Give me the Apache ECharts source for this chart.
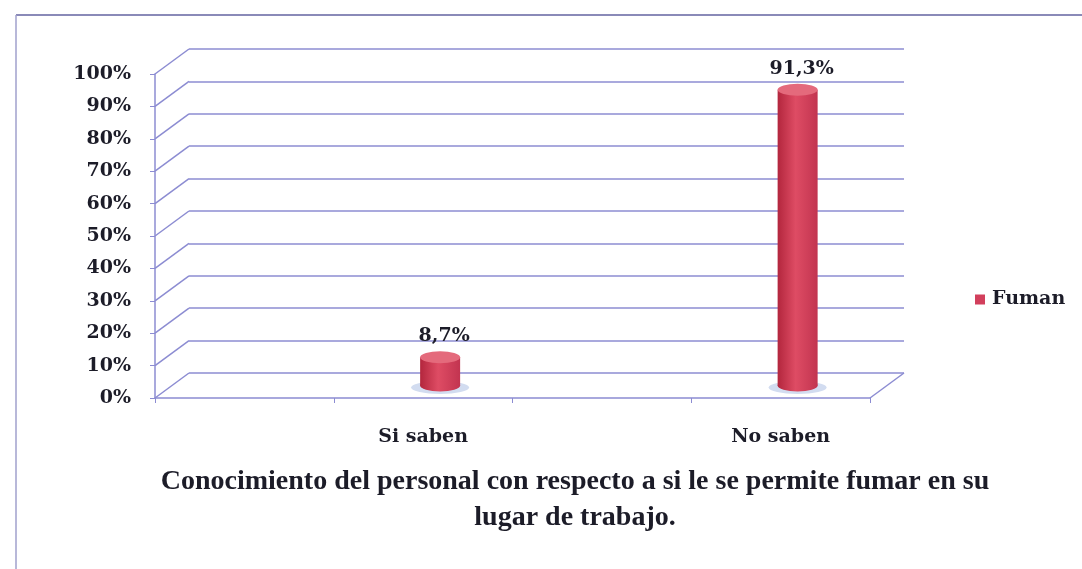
<!DOCTYPE html>
<html>
<head>
    <meta charset="UTF-8">
    <title>Fuman</title>
    <script src="https://cdn.jsdelivr.net/npm/echarts@6/dist/echarts.min.js"></script>
    <style>
        html, body { margin: 0; padding: 0; background: #ffffff; }
        #main { width: 1082px; height: 569px; }
    </style>
</head>
<body>
<div id="main"></div>
<script>
    // datos del grafico
    var categorias = ['Si saben', 'No saben'];
    var valores = [8.7, 91.3];
    var etiquetas = ['8,7%', '91,3%'];
    var serieNombre = 'Fuman';
    var marcasY = [0, 10, 20, 30, 40, 50, 60, 70, 80, 90, 100];
    var titulo = 'Conocimiento del personal con respecto a si le se permite fumar en su\nlugar de trabajo.';

    // estilo / efecto 3D
    var DX = 34, DY = 25;          // desplazamiento de la pared del fondo
    var colorLinea = '#8c8cd2';
    var colorTexto = '#1c1c28';
    var fuente = 'DejaVu Serif';

    // cada categoria ocupa dos huecos del eje, como en el original de Excel
    var huecos = [];
    var datosBarras = [];
    categorias.forEach(function (c, i) {
        huecos.push('');
        huecos.push(c);
        datosBarras.push([huecos.length - 1, valores[i], i]);
    });

    var degradado = new echarts.graphic.LinearGradient(0, 0, 1, 0, [
        {offset: 0, color: '#b3263d'},
        {offset: 0.45, color: '#de4c64'},
        {offset: 1, color: '#c23450'}
    ]);

    // lineas diagonales que unen el eje frontal con la pared del fondo
    function dibujarUniones(params, api) {
        var v = api.value(1);
        var y = api.coord([0, v])[1];
        var x0 = params.coordSys.x;
        var estilo = {stroke: colorLinea, lineWidth: 1.5};
        var hijos = [{type: 'line', shape: {x1: x0 - DX, y1: y + DY, x2: x0, y2: y}, style: estilo}];
        if (v === 0) {
            var x1 = x0 + params.coordSys.width;
            hijos.push({type: 'line', shape: {x1: x1 - DX, y1: y + DY, x2: x1, y2: y}, style: estilo});
        }
        return {type: 'group', children: hijos};
    }

    // cilindros
    function dibujarCilindro(params, api) {
        var base = api.coord([api.value(0), 0]);
        var cima = api.coord([api.value(0), api.value(1)]);
        var cx = base[0] + DX / 2;
        var yb = base[1] - DY / 2;
        var yt = cima[1] - DY / 2;
        var rx = 20, ry = 6;
        return {
            type: 'group',
            children: [
                {type: 'circle', x: cx, y: yb + 2, scaleY: 0.22, shape: {cx: 0, cy: 0, r: rx + 9}, style: {fill: '#d2dcf0'}},
                {type: 'rect', shape: {x: cx - rx, y: yt, width: 2 * rx, height: yb - yt}, style: {fill: degradado}},
                {type: 'circle', x: cx, y: yb, scaleY: ry / rx, shape: {cx: 0, cy: 0, r: rx}, style: {fill: degradado}},
                {type: 'circle', x: cx, y: yt, scaleY: ry / rx, shape: {cx: 0, cy: 0, r: rx}, style: {fill: '#e46a7c'}},
                {
                    type: 'text', x: cx + 4, y: yt - 21,
                    style: {
                        text: etiquetas[api.value(2)], textAlign: 'center', textVerticalAlign: 'middle',
                        font: 'bold 19px "' + fuente + '"', fill: colorTexto
                    }
                }
            ]
        };
    }

    var myChart = echarts.init(document.getElementById('main'));

    var option = {
        animation: false,
        backgroundColor: '#ffffff',
        graphic: [
            {type: 'line', shape: {x1: 16, y1: 15, x2: 1082, y2: 15}, style: {stroke: '#8a8ab8', lineWidth: 2}},
            {type: 'line', shape: {x1: 16, y1: 15, x2: 16, y2: 569}, style: {stroke: '#a0a0cc', lineWidth: 1.5}},
            {
                type: 'text', x: 575, y: 464,
                style: {
                    text: titulo, textAlign: 'center', textVerticalAlign: 'top', lineHeight: 36,
                    font: 'bold 28px "Liberation Serif"', fill: colorTexto
                }
            }
        ],
        legend: {
            data: [{name: serieNombre, icon: 'rect'}],
            left: 970, top: 285,
            itemWidth: 10, itemHeight: 10,
            selectedMode: false,
            textStyle: {fontFamily: fuente, fontWeight: 'bold', fontSize: 19, color: colorTexto, padding: [0, 0, 0, 2]}
        },
        grid: [
            {left: 155, top: 74, right: 212, bottom: 171},   // plano frontal
            {left: 189, top: 49, right: 178, bottom: 196}    // pared del fondo
        ],
        xAxis: [
            {
                type: 'category', gridIndex: 0, data: huecos, boundaryGap: true,
                axisLine: {lineStyle: {color: colorLinea, width: 1.5}},
                axisTick: {show: true, interval: 0, length: 5, lineStyle: {color: colorLinea}},
                axisLabel: {interval: 0, margin: 30, fontFamily: fuente, fontWeight: 'bold', fontSize: 19, color: colorTexto}
            },
            {type: 'category', gridIndex: 1, data: huecos, show: false}
        ],
        yAxis: [
            {
                type: 'value', gridIndex: 0, min: 0, max: 100, interval: 10,
                axisLine: {show: true, lineStyle: {color: colorLinea, width: 1.5}},
                axisTick: {show: true, length: 5, lineStyle: {color: colorLinea}},
                axisLabel: {formatter: '{value}%', margin: 24, fontFamily: fuente, fontWeight: 'bold', fontSize: 19, color: colorTexto},
                splitLine: {show: false}
            },
            {
                type: 'value', gridIndex: 1, min: 0, max: 100, interval: 10,
                axisLine: {show: false}, axisTick: {show: false}, axisLabel: {show: false},
                splitLine: {show: true, lineStyle: {color: colorLinea, width: 1.5}}
            }
        ],
        series: [
            {
                type: 'custom', name: 'uniones', xAxisIndex: 1, yAxisIndex: 1,
                renderItem: dibujarUniones, silent: true,
                data: marcasY.map(function (v) { return [0, v]; })
            },
            {
                type: 'custom', name: serieNombre, xAxisIndex: 0, yAxisIndex: 0,
                renderItem: dibujarCilindro, z: 5,
                itemStyle: {color: '#d23f5c'},
                data: datosBarras
            }
        ]
    };
    myChart.setOption(option);
</script>
</body>
</html>
